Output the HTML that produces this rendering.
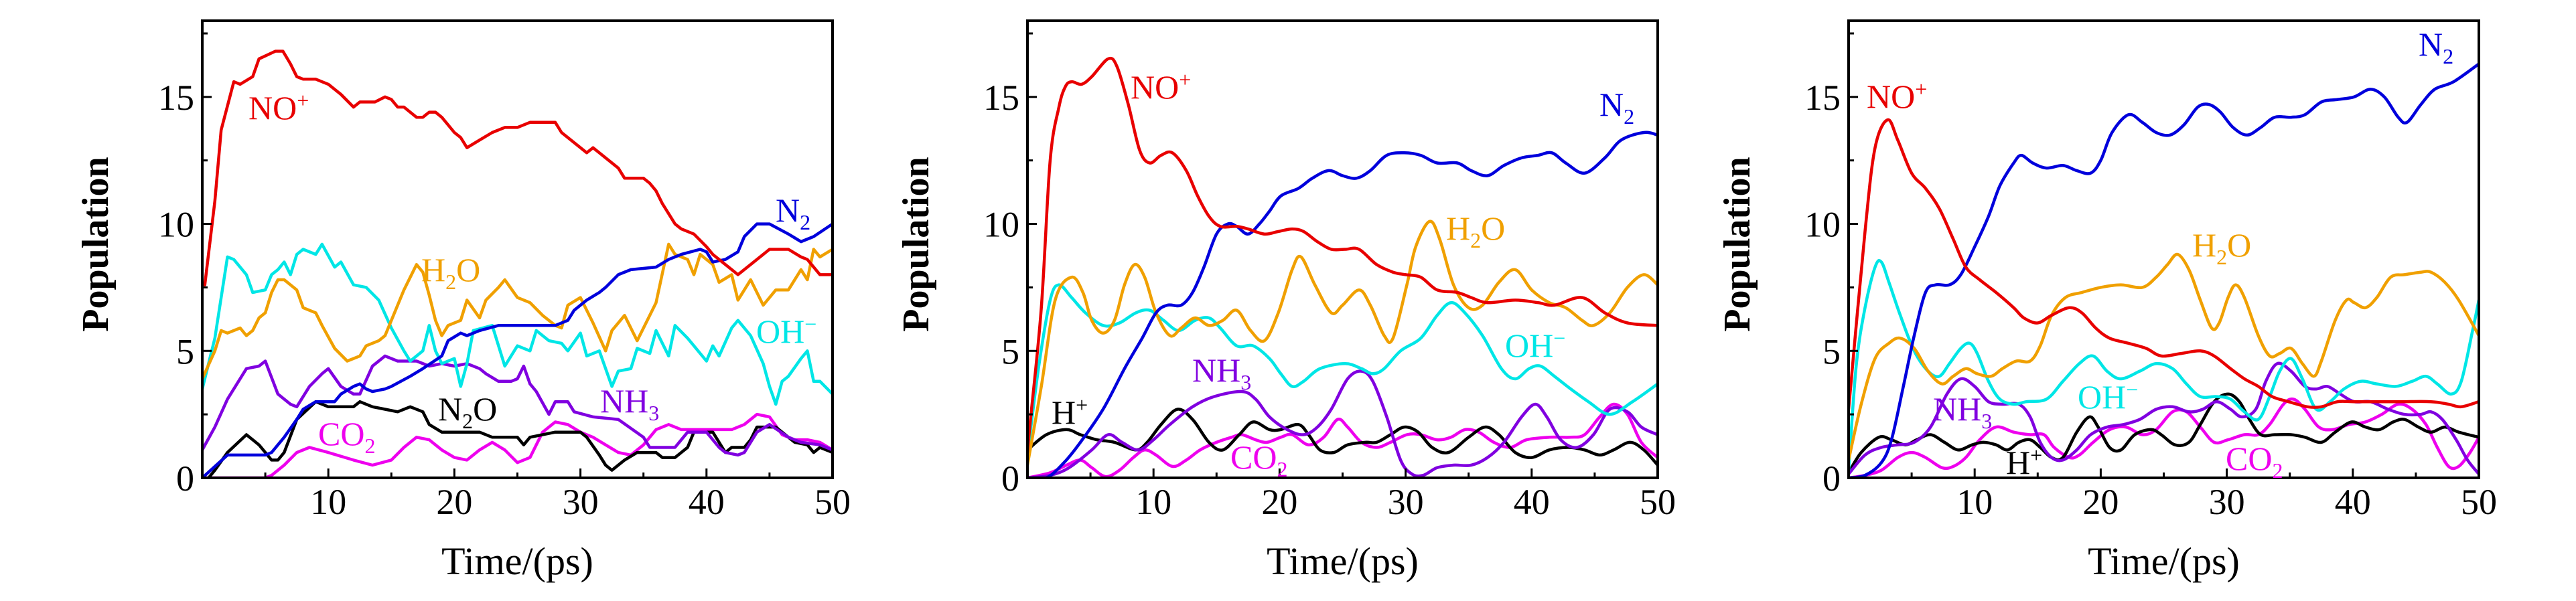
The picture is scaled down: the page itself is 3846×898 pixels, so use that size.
<!DOCTYPE html>
<html><head><meta charset="utf-8"><style>
html,body{margin:0;padding:0;background:#fff;}
svg{display:block;}
svg text{font-family:"Liberation Serif","Times New Roman",serif;}
</style></head><body>
<svg id="fig" width="3846" height="898" viewBox="0 0 3846 898" xmlns="http://www.w3.org/2000/svg" font-family="Liberation Serif, serif"></svg>
<script>
// ---- data (time in ps, population) ----
const xTicks=[10,20,30,40,50];
const yTicks=[0,5,10,15];
const colors={NO:"#e80000",N2:"#0000dc",H2O:"#f0a000",OH:"#00e6e6",NH3:"#8000e0",BK:"#000000",CO2:"#ee00ee"};

const p1_NO=[[0.2,7.6],[1,10.9],[1.5,13.7],[2.5,15.6],[3,15.5],[4,15.8],[4.5,16.5],[5.8,16.8],[6.4,16.8],[7,16.3],[7.5,15.8],[8,15.7],[9,15.7],[10,15.5],[11,15.1],[12,14.6],[12.5,14.8],[13.7,14.8],[14.5,15.0],[15,14.9],[15.5,14.6],[16,14.6],[17,14.2],[17.5,14.2],[18,14.4],[18.5,14.4],[19,14.2],[20,13.6],[20.5,13.4],[21,13.0],[22,13.3],[23,13.6],[24,13.8],[25,13.8],[26,14.0],[28,14.0],[28.5,13.6],[29.5,13.2],[30.5,12.8],[31,13.0],[32,12.6],[33,12.2],[33.5,11.8],[35,11.8],[35.5,11.6],[36,11.3],[36.5,10.8],[37.5,10.0],[38,9.8],[39,9.6],[40,9.1],[40.5,8.8],[41.5,8.4],[42.5,8.0],[43.5,8.4],[44.5,8.8],[45,9.0],[46.5,9.0],[47.5,8.7],[48,8.6],[49,8.0],[50,8.0]];
const p1_N2=[[0,0],[2,0.9],[5,0.9],[5.5,1.0],[6.5,1.6],[7.5,2.3],[8,2.7],[9,3.0],[10.5,3.0],[11,3.3],[12,3.6],[12.5,3.7],[13,3.5],[13.5,3.4],[14.5,3.5],[15,3.6],[16.5,4.0],[17.5,4.3],[19,4.8],[19.5,5.4],[20.5,5.7],[21,5.6],[22,5.8],[23.5,6.0],[28,6.0],[29,6.2],[29.5,6.6],[30.5,7.0],[31.5,7.3],[32,7.5],[33,8.0],[34,8.2],[36,8.3],[37,8.6],[38,8.8],[39.5,9.0],[40,8.9],[40.5,8.5],[41.5,8.6],[42.5,8.9],[43,9.5],[44,10.0],[45,10.0],[46.5,9.6],[47.5,9.3],[48.5,9.5],[50,10.0]];
const p1_H2O=[[0,3.9],[1,5.0],[1.5,5.8],[2,5.7],[3,5.9],[3.5,5.6],[4,5.8],[4.5,6.3],[5,6.5],[5.5,7.3],[6,7.8],[6.5,7.8],[7.5,7.4],[8,6.7],[9,6.5],[9.5,6.0],[10.5,5.1],[11.5,4.6],[12.5,4.8],[13,5.2],[14,5.4],[14.5,5.6],[15.5,6.8],[16,7.4],[17,8.4],[17.5,8.1],[18,7.2],[18.5,6.2],[19,5.6],[19.5,6.0],[20.5,6.2],[21,7.0],[22,6.3],[22.5,7.0],[23.5,7.5],[24,7.8],[25,7.1],[26,6.9],[27,6.4],[28,6.0],[28.5,5.9],[29,6.8],[30,7.1],[31,6.1],[32,5.0],[32.5,5.8],[33.5,6.4],[34.5,5.4],[35.5,6.4],[36,6.9],[37,9.2],[37.5,8.8],[38.5,8.6],[39,8.0],[39.5,8.8],[40.5,8.4],[41,7.7],[42,8.0],[42.5,7.0],[43.5,7.8],[44.5,6.8],[45.5,7.4],[46.5,7.4],[47.5,8.2],[48,7.8],[48.5,9.0],[49,8.7],[50,9.0]];
const p1_OH=[[0,3.5],[1,5.5],[2,8.7],[2.5,8.6],[3.5,8.0],[4,7.3],[5,7.4],[5.5,8.0],[6,8.2],[6.5,8.5],[7,8.0],[7.5,8.8],[8,9.0],[9,8.8],[9.5,9.2],[10.5,8.3],[11,8.5],[12,7.6],[13,7.5],[14,7.0],[15,5.9],[16,5.0],[16.5,4.6],[17.5,5.0],[18,6.0],[18.5,5.0],[19,4.5],[20,4.7],[20.5,3.6],[21,4.5],[21.5,5.8],[23,6.0],[24,4.4],[25,5.2],[26,5.0],[26.5,5.8],[27.5,5.4],[28.5,5.3],[29,5.0],[30,5.7],[30.5,4.8],[31.5,5.0],[32.5,3.6],[33,4.2],[34,4.3],[34.5,5.1],[35.5,4.9],[36,5.8],[37,4.8],[37.5,6.0],[38.5,5.5],[39,5.2],[40,4.6],[40.5,5.2],[41,4.8],[42,5.9],[42.5,6.2],[43.5,5.6],[44.5,4.5],[45,3.6],[45.5,2.9],[46,3.8],[46.5,4.0],[47.5,4.7],[48,5.0],[48.5,3.8],[49,3.8],[50,3.3]];
const p1_NH3=[[0,1.1],[1,2.0],[2,3.1],[3.5,4.3],[4.5,4.4],[5,4.6],[6,3.3],[7,2.9],[7.5,2.8],[8.5,3.6],[9.5,4.1],[10,4.3],[11,3.6],[12,3.3],[12.5,3.3],[13.5,4.4],[14.5,4.8],[15.5,4.6],[17,4.6],[18,4.4],[19,4.5],[20,4.4],[21,4.5],[22,4.3],[22.5,4.1],[23.5,3.8],[24.5,3.8],[25,3.9],[25.5,4.4],[26,3.7],[26.5,3.4],[27.5,2.5],[28,3.0],[29,3.0],[29.5,2.6],[31,2.4],[33,2.3],[35,1.6],[35.5,1.2],[37.5,1.2],[38.5,1.8],[40,1.8],[41,1.2],[41.5,1.0],[42.5,0.9],[43,1.0],[44,1.8],[45,2.1],[46.5,1.6],[47.5,1.4],[49,1.3],[50,1.1]];
const p1_N2O=[[0.5,0],[1,0.3],[2,1.0],[3.5,1.7],[4.5,1.3],[5.5,0.7],[6,0.7],[6.5,1.0],[7.5,2.3],[9,3.0],[10,2.8],[12,2.8],[12.5,3.0],[13.5,2.8],[14.5,2.7],[15.5,2.6],[16.5,2.8],[17.5,2.6],[18,2.1],[19,1.8],[22,1.8],[23,1.6],[25,1.6],[25.5,1.3],[26,1.6],[28,1.8],[30,1.8],[30.5,1.6],[31.5,0.9],[32,0.5],[32.5,0.3],[33.5,0.7],[34.5,1.0],[36,1.0],[36.5,0.8],[37.5,0.8],[38.5,1.2],[39,1.8],[40.5,1.8],[41.5,1.0],[42,1.2],[43,1.2],[43.5,1.5],[44,2.0],[45.5,2.0],[47,1.4],[48,1.3],[48.5,1.0],[49,1.2],[50,1.0]];
const p1_CO2=[[0,0],[5,0],[5.5,0.1],[6.5,0.5],[7.5,1.0],[8.5,1.2],[10,1.0],[12,0.7],[13.5,0.5],[15,0.7],[16,1.2],[17,1.6],[18,1.5],[19,1.1],[20,0.8],[21,0.7],[22,1.1],[23,1.4],[24,1.1],[25,0.6],[26,0.8],[27,1.8],[28,2.2],[29,2.1],[30,1.8],[31,1.6],[32,1.3],[33,1.0],[34,0.9],[35,1.3],[36,1.9],[37,2.1],[38,1.9],[42,1.9],[43,2.1],[44,2.5],[45,2.4],[46,1.7],[47,1.5],[48,1.5],[49,1.4],[50,1.1]];

const p2_NO=[[0,1.0],[0.2,2.1],[1.1,6.7],[1.8,12.5],[2.5,14.6],[3,15.4],[3.5,15.6],[4.3,15.5],[5.1,15.8],[6.4,16.5],[7.1,16.2],[8,14.7],[8.9,12.9],[9.7,12.4],[10.6,12.7],[11.5,12.8],[12.6,12.1],[13.5,11.1],[14.4,10.3],[15.3,9.9],[16.6,9.9],[17.5,9.8],[18.8,9.6],[19.9,9.7],[21,9.8],[21.9,9.7],[23,9.3],[24.1,9.0],[25.2,9.0],[26.3,9.0],[27.7,8.4],[29,8.1],[30,8.0],[31.2,7.9],[32.5,7.4],[34.1,7.3],[35.2,7.1],[36.5,6.9],[38.7,7.0],[40.5,6.9],[41.8,6.8],[44,7.1],[45.8,6.5],[47.6,6.1],[50,6.0]];
const p2_N2=[[0,0],[1.5,0],[2.9,0.6],[4.2,1.4],[6,2.7],[7.7,4.3],[9.1,5.5],[10.2,6.5],[11.1,6.8],[12.2,6.8],[13.1,7.3],[14,8.3],[15,9.6],[15.9,10.0],[16.6,9.9],[17.5,9.6],[18.4,10.0],[19.2,10.5],[20.1,11.1],[21.5,11.4],[22.6,11.8],[23.9,12.1],[25,11.9],[26.1,11.8],[27.2,12.1],[28.5,12.7],[29.9,12.8],[31.2,12.7],[32.5,12.4],[34.1,12.4],[35.2,12.1],[36.5,11.9],[37.8,12.3],[39.2,12.6],[40.5,12.7],[41.6,12.8],[42.7,12.4],[44.2,12.0],[45.8,12.6],[47.1,13.3],[48.9,13.6],[50,13.5]];
const p2_H2O=[[0,0.5],[1.1,3.6],[2.2,7.0],[3.5,7.9],[4.4,7.3],[5.1,6.2],[6,5.7],[6.9,6.2],[7.7,7.6],[8.5,8.4],[9.3,7.9],[10.2,6.5],[11.3,5.6],[12.2,5.9],[13.3,6.3],[14.4,6.0],[15.5,6.2],[16.6,6.6],[17.7,5.8],[18.8,5.4],[19.9,6.5],[21,8.2],[21.7,8.7],[22.8,7.6],[24.1,6.5],[25,6.8],[26.3,7.4],[27.2,6.8],[28.3,5.6],[29,5.5],[30.1,7.6],[30.8,9.1],[31.9,10.1],[32.7,9.4],[33.8,7.6],[35,6.7],[36.1,6.8],[37.4,7.7],[38.7,8.2],[40,7.4],[41.4,6.9],[42.7,6.7],[44,6.2],[44.9,6.0],[46.2,6.5],[47.6,7.5],[48.9,8.0],[50,7.6]];
const p2_OH=[[0,0.9],[0.9,4.4],[1.8,7.0],[2.5,7.6],[3.5,7.1],[4.6,6.5],[6,6.0],[7.3,6.1],[8.6,6.5],[9.7,6.6],[10.8,6.2],[12,5.8],[13.3,6.2],[14.4,6.3],[15.3,5.9],[16.6,5.2],[17.9,5.2],[19.2,4.7],[20.1,4.1],[21,3.6],[21.9,3.8],[23.2,4.3],[25.2,4.5],[26.5,4.3],[27.4,4.1],[28.3,4.3],[29.6,5.0],[31.2,5.5],[32.5,6.4],[33.6,6.9],[34.7,6.5],[36.1,5.6],[37.6,4.3],[38.7,3.9],[39.8,4.3],[40.7,4.4],[41.8,4.0],[43.1,3.5],[44.5,3.0],[46.2,2.5],[48,3.0],[50,3.7]];
const p2_NH3=[[0,0],[1.8,0.1],[3.3,0.4],[5.1,1.1],[6.4,1.7],[7.5,1.4],[8.8,1.1],[10,1.5],[11.3,2.1],[13.1,2.8],[14.8,3.2],[17,3.4],[18.1,3.1],[19.2,2.4],[20.6,1.9],[21.9,1.7],[23,2.0],[24.1,2.7],[25.4,3.9],[26.5,4.2],[27.4,3.8],[28.5,2.4],[29.6,0.7],[30.5,0.15],[31.4,0.1],[32.5,0.4],[33.8,0.5],[35.2,0.5],[36.5,0.8],[37.8,1.4],[39.2,2.4],[40.3,2.9],[41.2,2.4],[42.3,1.5],[43.6,1.2],[44.9,1.7],[46.2,2.7],[47.6,2.6],[48.7,2.0],[50,1.7]];
const p2_H=[[0,1.1],[1.5,1.7],[3.1,1.9],[4.2,1.7],[5.5,1.5],[6.9,1.4],[8.6,1.1],[9.5,1.4],[10.6,2.1],[11.9,2.7],[13.1,2.3],[14.4,1.4],[15.5,1.1],[16.8,1.7],[17.9,2.2],[19.2,1.9],[20.1,1.9],[21.5,2.1],[22.3,1.7],[23.2,1.1],[24.3,1.0],[25.4,1.3],[26.8,1.4],[27.7,1.4],[28.8,1.7],[29.9,2.0],[31,1.8],[32.1,1.2],[33.4,1.0],[35,1.6],[36.3,2.0],[37.4,1.7],[38.7,1.0],[40,0.8],[41.4,1.1],[42.9,1.2],[44.2,1.1],[45.4,0.9],[46.5,1.1],[47.8,1.4],[48.9,1.1],[50,0.5]];
const p2_CO2=[[0,0],[1.8,0.2],[3.1,0.5],[4.2,0.7],[5.1,0.4],[6.2,0.05],[7.3,0.3],[8.4,0.8],[9.3,1.1],[10.2,0.9],[11.5,0.45],[12.6,0.7],[13.7,1.1],[15,1.4],[16.2,1.6],[17,1.7],[18.1,1.5],[19,1.4],[20.1,1.6],[21,1.7],[22.3,1.3],[23.5,1.6],[24.6,2.3],[25.4,2.0],[26.5,1.4],[27.7,1.2],[28.8,1.4],[30.1,1.7],[31.2,1.7],[32.5,1.5],[33.6,1.6],[34.7,1.9],[35.8,1.8],[37,1.4],[38.3,1.2],[39.6,1.5],[41.4,1.6],[43.1,1.6],[44.2,1.7],[45.4,2.4],[46.5,2.9],[47.6,2.5],[48.7,1.4],[50,0.8]];

const p3_NO=[[0,2.7],[1.3,9.7],[2.1,13.0],[3.1,14.1],[3.9,13.3],[5,12.0],[6.1,11.4],[7.2,10.6],[8.3,9.4],[9.3,8.3],[10.4,7.8],[11.7,7.3],[13.1,6.7],[13.9,6.3],[15,6.1],[16.1,6.4],[17.5,6.7],[18.5,6.5],[19.6,5.9],[20.7,5.5],[22.2,5.3],[23.6,5.1],[24.8,4.8],[26.4,4.9],[27.9,5.0],[29,4.8],[30.3,4.3],[31.4,3.9],[32.5,3.6],[33.6,3.2],[34.9,3.0],[36.4,2.8],[37.5,2.8],[38.8,3.0],[40.1,3.0],[43.6,3.0],[46.2,3.0],[47.6,2.9],[48.6,2.8],[50,3.0]];
const p3_N2=[[0,0],[1.3,0.1],[2.6,0.6],[3.4,1.5],[4.3,3.5],[5.2,5.6],[6.1,7.3],[6.9,7.6],[8,7.6],[8.9,8.0],[10,9.1],[11.1,10.3],[12,11.5],[13.1,12.4],[13.7,12.7],[14.6,12.4],[15.7,12.2],[17,12.3],[18.1,12.1],[19.2,12.0],[20,12.5],[20.9,13.6],[22.2,14.3],[23.3,14.0],[24.4,13.6],[25.5,13.5],[26.6,13.9],[27.7,14.6],[28.6,14.7],[29.5,14.4],[30.5,13.8],[31.6,13.5],[32.7,13.8],[33.8,14.2],[35.1,14.2],[36.2,14.3],[37.5,14.8],[38.8,14.9],[40.1,15.0],[41.4,15.3],[42.5,15.0],[43.6,14.2],[44.3,14.0],[45.4,14.7],[46.5,15.3],[48,15.6],[50,16.3]];
const p3_H2O=[[0,0.7],[1,2.9],[2.1,4.7],[3.2,5.3],[4.1,5.5],[5.2,5.1],[6.3,4.2],[7.4,3.7],[8.3,4.0],[9.3,4.3],[10.2,4.1],[11.3,4.0],[12.2,4.3],[13.3,4.6],[14.4,4.6],[15.2,5.2],[16.1,6.4],[17.2,7.1],[18.5,7.3],[20,7.5],[21.6,7.6],[23.3,7.5],[24.4,7.9],[25.3,8.4],[26.1,8.8],[27,8.2],[27.9,7.0],[28.8,5.9],[29.4,6.1],[30.1,7.1],[30.7,7.6],[31.4,7.1],[32.5,5.6],[33.4,4.8],[34.2,4.9],[35.1,5.1],[36,4.5],[36.9,4.0],[37.5,4.6],[38.6,6.2],[39.5,7.0],[40.1,6.9],[41,6.7],[41.9,7.1],[43,7.9],[44.1,8.0],[45.4,8.1],[46.2,8.1],[47.3,7.7],[48.4,7.0],[50,5.6]];
const p3_OH=[[0,0.3],[0.6,4.4],[1.3,6.7],[2.1,8.3],[2.6,8.5],[3.2,7.7],[4.1,6.4],[5.2,5.0],[6.3,4.2],[7.2,4.0],[8,4.5],[8.9,5.1],[9.6,5.3],[10.2,4.9],[11.1,3.8],[12,3.1],[13.1,2.9],[14.1,3.0],[15.7,3.1],[17,3.8],[18.3,4.5],[19.4,4.8],[20.5,4.2],[21.6,3.9],[23.1,4.2],[24.4,4.5],[25.7,4.3],[26.8,3.7],[27.9,3.2],[29.2,3.2],[30.3,3.1],[31.4,2.6],[32.5,2.3],[33.4,3.2],[34.2,4.2],[35.1,4.7],[36,3.9],[37.1,2.7],[38.2,3.0],[39.3,3.5],[40.6,3.8],[41.9,3.7],[43.4,3.6],[44.7,3.8],[45.8,4.0],[46.7,3.7],[47.8,3.3],[48.6,3.8],[49.5,5.8],[50,7.0]];
const p3_NH3=[[0,0.15],[1.3,0.9],[2.6,1.2],[3.9,1.3],[5.2,1.4],[6.5,2.0],[7.8,3.3],[8.9,3.9],[10,3.6],[11.1,3.0],[12.2,2.9],[13.5,2.9],[14.4,2.4],[15.2,1.4],[16.1,0.8],[17,0.7],[18.1,1.1],[19.2,1.7],[20.5,2.0],[21.8,2.1],[23.1,2.3],[24.4,2.7],[25.7,2.8],[27,2.6],[28.1,2.7],[29.2,3.0],[30.3,2.7],[31.2,2.4],[32.3,2.7],[33.1,3.8],[34,4.5],[35.1,4.2],[36.2,3.6],[37.1,3.5],[38,3.6],[39,3.3],[40.1,3.0],[41.4,3.0],[42.8,2.7],[44.1,2.5],[45.4,2.5],[46.2,2.6],[47.1,2.3],[48.2,1.5],[49.1,0.7],[50,0.15]];
const p3_H=[[0,0.2],[1,1.0],[2.4,1.6],[3.4,1.5],[4.5,1.3],[5.4,1.5],[6.5,1.7],[7.6,1.4],[8.7,1.1],[9.8,1.3],[10.7,1.4],[11.7,1.3],[12.6,1.1],[13.5,1.4],[14.4,1.5],[15.2,1.2],[16.1,0.8],[17,0.8],[18.1,1.8],[19.1,2.4],[19.8,2.0],[20.7,1.2],[21.6,1.1],[22.7,1.7],[24,1.9],[24.8,1.7],[25.9,1.3],[27,1.4],[27.9,2.1],[29,3.0],[30.1,3.3],[31,3.0],[31.8,2.3],[32.7,1.7],[33.8,1.7],[35.1,1.7],[36.2,1.6],[37.5,1.4],[38.6,1.8],[39.9,2.2],[41,2.0],[42.1,1.9],[43.2,2.2],[44.1,2.3],[45.2,2.0],[46.2,1.8],[47.3,2.0],[48.4,1.8],[50,1.6]];
const p3_CO2=[[0,0],[1.3,0.1],[2.6,0.3],[3.9,0.8],[5,1.0],[6.1,0.8],[7.4,0.4],[8.3,0.45],[9.3,0.8],[10.4,1.5],[11.7,2.0],[13.1,1.8],[14.4,1.7],[15.5,1.7],[16.3,1.2],[17.5,0.8],[18.3,0.9],[19.4,1.4],[20.7,1.9],[22,2.0],[23.3,1.7],[24.4,1.9],[25.7,2.6],[26.8,2.6],[27.9,2.0],[29,1.4],[30.1,1.5],[31.4,1.7],[32.5,1.7],[33.4,2.1],[34.5,2.9],[35.3,3.1],[36.2,2.7],[37.3,2.0],[38.4,1.9],[39.7,2.1],[41,2.2],[42.3,2.5],[43.6,2.9],[44.7,2.7],[45.8,2.1],[46.7,1.2],[47.6,0.45],[48.4,0.45],[49.3,1.0],[50,1.6]];

// ---- layout ----
const NS="http://www.w3.org/2000/svg";
const FONT='"Liberation Serif", "Times New Roman", serif';
const svg=document.getElementById('fig');
const TOP=31,BOT=714,W=941,XMAX=50,YMAX=18;
const panels=[
 {left:302,smooth:false,titleX:142,name:'panel-a',
  series:[["co2",p1_CO2,colors.CO2],["n2o",p1_N2O,colors.BK],["nh3",p1_NH3,colors.NH3],["oh",p1_OH,colors.OH],["h2o",p1_H2O,colors.H2O],["n2",p1_N2,colors.N2],["no",p1_NO,colors.NO]],
  labels:[["NO","+","sup",371,178,colors.NO],["N","2","sub",1158,331,colors.N2],["H|2|O","","h2o",629,420,colors.H2O],["OH","−","sup",1129,512,colors.OH],["NH","3","sub",896,616,colors.NH3],["N|2|O","","h2o",654,628,colors.BK],["CO","2","sub",475,665,colors.CO2]]},
 {left:1534,smooth:true,titleX:1367,name:'panel-b',
  series:[["co2",p2_CO2,colors.CO2],["h",p2_H,colors.BK],["nh3",p2_NH3,colors.NH3],["oh",p2_OH,colors.OH],["h2o",p2_H2O,colors.H2O],["n2",p2_N2,colors.N2],["no",p2_NO,colors.NO]],
  labels:[["NO","+","sup",1688,147,colors.NO],["N","2","sub",2388,173,colors.N2],["H|2|O","","h2o",2159,358,colors.H2O],["OH","−","sup",2247,533,colors.OH],["NH","3","sub",1780,570,colors.NH3],["H","+","sup",1570,633,colors.BK],["CO","2","sub",1837,700,colors.CO2]]},
 {left:2760,smooth:true,titleX:2593,name:'panel-c',
  series:[["co2",p3_CO2,colors.CO2],["h",p3_H,colors.BK],["nh3",p3_NH3,colors.NH3],["oh",p3_OH,colors.OH],["h2o",p3_H2O,colors.H2O],["n2",p3_N2,colors.N2],["no",p3_NO,colors.NO]],
  labels:[["NO","+","sup",2787,161,colors.NO],["N","2","sub",3611,83,colors.N2],["H|2|O","","h2o",3273,383,colors.H2O],["OH","−","sup",3102,610,colors.OH],["NH","3","sub",2886,628,colors.NH3],["H","+","sup",2995,708,colors.BK],["CO","2","sub",3323,702,colors.CO2]]}
];
function mk(tag,attrs,parent){const e=document.createElementNS(NS,tag);for(const k in attrs)e.setAttribute(k,attrs[k]);(parent||svg).appendChild(e);return e;}
function txt(attrs,parent){attrs['font-family']=FONT;attrs.style='font-family:'+FONT;return mk('text',attrs,parent);}

panels.forEach(p=>{
  const g=mk('g',{});
  
  
  const sx=t=>p.left+t/XMAX*W;
  const sy=v=>BOT-v/YMAX*(BOT-TOP);
  const cp=mk('clipPath',{id:'clip-'+p.name},g);
  mk('rect',{x:p.left,y:TOP,width:W,height:BOT-TOP},cp);
  const sg=mk('g',{'clip-path':'url(#clip-'+p.name+')'},g);
  p.series.forEach(s=>{
    const pts=s[1].map(d=>[sx(d[0]),sy(d[1])]);
    let d='M'+pts[0][0].toFixed(1)+','+pts[0][1].toFixed(1);
    if(p.smooth){
      for(let i=0;i<pts.length-1;i++){
        const p0=pts[Math.max(0,i-1)],p1=pts[i],p2=pts[i+1],p3=pts[Math.min(pts.length-1,i+2)];
        const c1=[p1[0]+(p2[0]-p0[0])/6,p1[1]+(p2[1]-p0[1])/6];
        const c2=[p2[0]-(p3[0]-p1[0])/6,p2[1]-(p3[1]-p1[1])/6];
        d+='C'+c1[0].toFixed(1)+','+c1[1].toFixed(1)+' '+c2[0].toFixed(1)+','+c2[1].toFixed(1)+' '+p2[0].toFixed(1)+','+p2[1].toFixed(1);
      }
    } else {
      for(let i=1;i<pts.length;i++) d+='L'+pts[i][0].toFixed(1)+','+pts[i][1].toFixed(1);
    }
    const path=mk('path',{d:d,fill:'none',stroke:s[2],'stroke-width':4.5,'stroke-linejoin':'round','stroke-linecap':'round'},sg);
    
    
  });
  const fr=mk('rect',{x:p.left,y:TOP,width:W,height:BOT-TOP,fill:'none',stroke:'#000','stroke-width':4},g);
  
  
  for(let t=5;t<=XMAX;t+=5){
    const major=t%10===0;
    mk('line',{x1:sx(t),x2:sx(t),y1:BOT,y2:BOT-(major?14:8),stroke:'#000','stroke-width':3},g);
  }
  xTicks.forEach(t=>{
    const tx=txt({x:sx(t),y:768,'text-anchor':'middle','font-size':54,fill:'#000'},g);
    tx.textContent=t;
    
    
  });
  for(let v=2.5;v<YMAX;v+=2.5){
    const major=v%5===0;
    mk('line',{x1:p.left,x2:p.left+(major?14:8),y1:sy(v),y2:sy(v),stroke:'#000','stroke-width':3},g);
  }
  yTicks.forEach(v=>{
    const ty=txt({x:p.left-12,y:sy(v)+19,'text-anchor':'end','font-size':54,fill:'#000'},g);
    ty.textContent=v;
    
    
  });
  const xt=txt({x:p.left+W/2,y:858,'text-anchor':'middle','font-size':58,fill:'#000'},g);
  xt.textContent='Time/(ps)';
  
  
  const yt=txt({x:0,y:0,'text-anchor':'middle','font-size':56,'font-weight':'bold',fill:'#000',transform:'translate('+(p.titleX+19)+',365) rotate(-90)'},g);
  yt.textContent='Population';
  
  
  p.labels.forEach(L=>{
    const t=txt({x:L[3],y:L[4],'font-size':50,fill:L[5]},g);
    
    
    if(L[2]==='h2o'){
      const parts=L[0].split('|');
      const a=mk('tspan',{},t);a.textContent=parts[0];
      const b=mk('tspan',{'font-size':32,dy:12},t);b.textContent=parts[1];
      const c=mk('tspan',{dy:-12},t);c.textContent=parts[2];
    } else {
      const a=mk('tspan',{},t);a.textContent=L[0];
      const b=mk('tspan',{'font-size':32,dy:(L[2]==='sub'?12:-17)},t);b.textContent=L[1];
    }
  });
});
</script>
</body></html>
